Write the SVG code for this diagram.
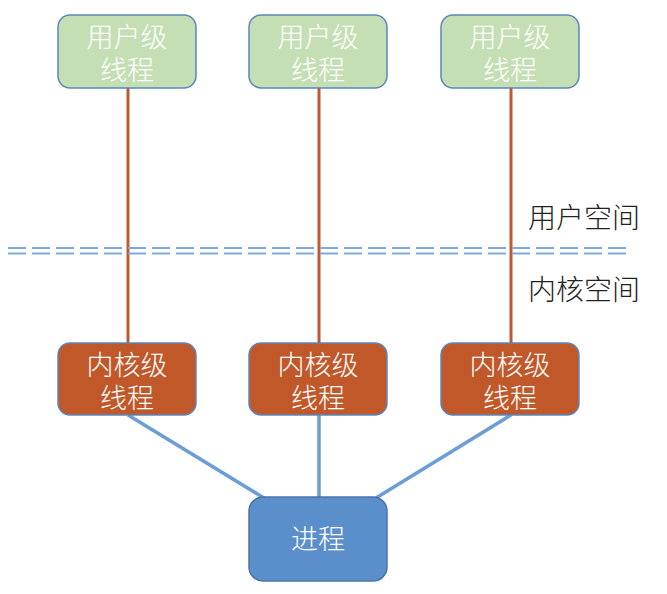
<svg xmlns="http://www.w3.org/2000/svg" width="667" height="594" viewBox="0 0 667 594">
<style>
.t{font-family:"Noto Sans CJK SC","Noto Sans",sans-serif;font-size:27px;font-weight:300;fill:#ffffff;text-anchor:middle}
.l{font-family:"Noto Sans CJK SC","Noto Sans",sans-serif;font-size:28px;font-weight:300;fill:#222222}
.u{fill:#c5dfb5;stroke:#5b86bd;stroke-width:1.5}
.k{fill:#c0582a;stroke:#5b86bd;stroke-width:1.5}
.p{fill:#5b8fcb;stroke:#4a74a8;stroke-width:1.5}
.br{stroke:#bf5a2c;stroke-width:3}
.bl{stroke:#6b9ed6;stroke-width:3.5}
.d{stroke:#7ea9da;stroke-width:2.2;stroke-dasharray:18 6}
</style>
<rect width="667" height="594" fill="#ffffff"/>
<g id="connectors">
<line class="br" x1="128" y1="88" x2="128" y2="344"/>
<line class="br" x1="319" y1="88" x2="319" y2="344"/>
<line class="br" x1="511" y1="88" x2="511" y2="344"/>
<line class="bl" x1="128" y1="415" x2="264" y2="498"/>
<line class="bl" x1="319" y1="415" x2="319" y2="498"/>
<line class="bl" x1="511" y1="415" x2="376" y2="498"/>
</g>
<g id="divider">
<line class="d" x1="8" y1="248" x2="630" y2="248"/>
<line class="d" x1="8" y1="253.5" x2="630" y2="253.5"/>
</g>
<g id="user1"><rect class="u" x="58" y="15" width="138" height="73" rx="12"/><text class="t" x="127" y="47">用户级</text><text class="t" x="127" y="80">线程</text></g>
<g id="user2"><rect class="u" x="249" y="15" width="138" height="73" rx="12"/><text class="t" x="318" y="47">用户级</text><text class="t" x="318" y="80">线程</text></g>
<g id="user3"><rect class="u" x="441" y="15" width="138" height="73" rx="12"/><text class="t" x="510" y="47">用户级</text><text class="t" x="510" y="80">线程</text></g>
<g id="kernel1"><rect class="k" x="58" y="343" width="138" height="72" rx="12"/><text class="t" x="127" y="375">内核级</text><text class="t" x="127" y="408">线程</text></g>
<g id="kernel2"><rect class="k" x="249" y="343" width="138" height="72" rx="12"/><text class="t" x="318" y="375">内核级</text><text class="t" x="318" y="408">线程</text></g>
<g id="kernel3"><rect class="k" x="441" y="343" width="138" height="72" rx="12"/><text class="t" x="510" y="375">内核级</text><text class="t" x="510" y="408">线程</text></g>
<g id="process"><rect class="p" x="249" y="497" width="138" height="84" rx="14"/><text class="t" x="318" y="549">进程</text></g>
<text class="l" x="528" y="228">用户空间</text>
<text class="l" x="528" y="300">内核空间</text>
</svg>
